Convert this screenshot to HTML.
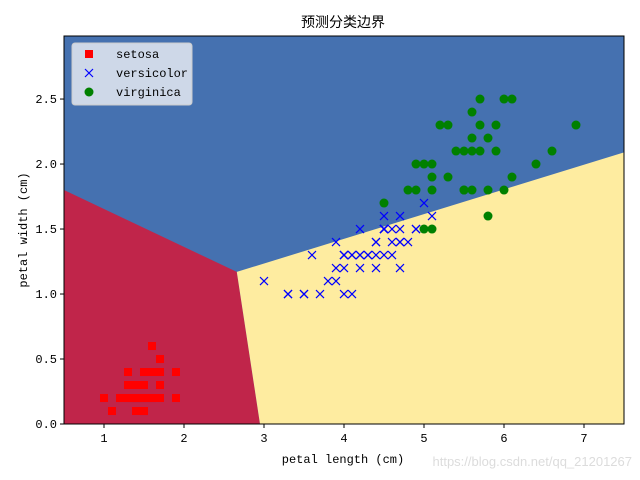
<!DOCTYPE html>
<html><head><meta charset="utf-8"><style>
body{margin:0;background:#fff}
svg{display:block;font-family:"Liberation Mono","WenQuanYi Zen Hei",monospace}
</style></head><body>
<svg id="c" width="640" height="480"></svg>
<script>
const xTicks=[1,2,3,4,5,6,7];
const yTicks=[0.0,0.5,1.0,1.5,2.0,2.5];
const regionRed=[[0.5,1.8],[2.66,1.17],[2.95,0],[0.5,0]];
const regionYellow=[[2.66,1.17],[7.5,2.09],[7.5,0],[2.95,0]];
const setosa=[[1.4,.2],[1.4,.2],[1.3,.2],[1.5,.2],[1.4,.2],[1.7,.4],[1.4,.3],[1.5,.2],[1.4,.2],[1.5,.1],[1.5,.2],[1.6,.2],[1.4,.1],[1.1,.1],[1.2,.2],[1.5,.4],[1.3,.4],[1.4,.3],[1.7,.3],[1.5,.3],[1.7,.2],[1.5,.4],[1.0,.2],[1.7,.5],[1.9,.2],[1.6,.2],[1.6,.4],[1.5,.2],[1.4,.2],[1.6,.2],[1.6,.2],[1.5,.4],[1.5,.1],[1.4,.2],[1.5,.1],[1.2,.2],[1.3,.2],[1.5,.1],[1.3,.2],[1.5,.2],[1.3,.3],[1.3,.3],[1.3,.2],[1.6,.6],[1.9,.4],[1.4,.3],[1.6,.2],[1.4,.2],[1.5,.2],[1.4,.2]];
const versicolor=[[4.7,1.4],[4.5,1.5],[4.9,1.5],[4.0,1.3],[4.6,1.5],[4.5,1.3],[4.7,1.6],[3.3,1.0],[4.6,1.3],[3.9,1.4],[3.5,1.0],[4.2,1.5],[4.0,1.0],[4.7,1.4],[3.6,1.3],[4.4,1.4],[4.5,1.5],[4.1,1.0],[4.5,1.5],[3.9,1.1],[4.0,1.3],[4.9,1.5],[4.7,1.2],[4.3,1.3],[4.4,1.4],[4.8,1.4],[5.0,1.7],[4.5,1.5],[3.5,1.0],[3.8,1.1],[3.7,1.0],[3.9,1.2],[5.1,1.6],[4.5,1.5],[4.5,1.6],[4.7,1.5],[4.4,1.3],[4.1,1.3],[4.0,1.3],[4.4,1.2],[4.6,1.4],[4.0,1.2],[3.3,1.0],[4.2,1.3],[4.2,1.2],[4.2,1.3],[4.3,1.3],[3.0,1.1],[4.1,1.3]];
const virginica=[[6.0,2.5],[5.1,1.9],[5.9,2.1],[5.6,1.8],[5.8,2.2],[6.6,2.1],[4.5,1.7],[5.8,1.8],[6.1,2.5],[5.1,2.0],[5.3,1.9],[5.5,2.1],[5.0,2.0],[5.3,2.3],[5.5,1.8],[6.9,2.3],[5.0,1.5],[5.7,2.3],[4.9,2.0],[4.9,1.8],[5.7,2.1],[6.0,1.8],[4.8,1.8],[5.6,2.1],[5.8,1.6],[6.1,1.9],[6.4,2.0],[5.6,2.2],[5.1,1.5],[5.6,2.4],[5.5,1.8],[5.4,2.1],[5.2,2.3],[5.1,1.8],[5.7,2.5],[5.9,2.3]];
const L=64,R=624,T=36,B=424,X0=0.5,X1=7.5,Y0=0,Y1=2.985;
const sx=v=>L+(v-X0)/(X1-X0)*(R-L), sy=v=>B-(v-Y0)/(Y1-Y0)*(B-T);
const s=document.getElementById('c'),NS='http://www.w3.org/2000/svg';
function el(t,a,p){const e=document.createElementNS(NS,t);for(const k in a)e.setAttribute(k,a[k]);(p||s).appendChild(e);return e;}
let e=el('rect',{x:L,y:T,width:R-L,height:B-T,fill:'#4571b0'});

e=el('polygon',{points:regionRed.map(p=>sx(p[0])+','+sy(p[1])).join(' '),fill:'#c0254a'});

e=el('polygon',{points:regionYellow.map(p=>sx(p[0])+','+sy(p[1])).join(' '),fill:'#feeca0'});

setosa.forEach(p=>{const m=el('rect',{x:sx(p[0])-4,y:sy(p[1])-4,width:8,height:8,fill:'#f00'});
});
versicolor.forEach(p=>{const x=sx(p[0]),y=sy(p[1]);const m=el('path',{d:`M${x-4} ${y-4}L${x+4} ${y+4}M${x-4} ${y+4}L${x+4} ${y-4}`,stroke:'#00f','stroke-width':1.2});
});
virginica.forEach(p=>{const m=el('circle',{cx:sx(p[0]),cy:sy(p[1]),r:4.5,fill:'#008000'});
});
e=el('rect',{x:L,y:T,width:R-L,height:B-T,fill:'none',stroke:'#000','stroke-width':1});

xTicks.forEach(v=>{const x=sx(v);el('line',{x1:x,x2:x,y1:B,y2:B+4,stroke:'#000'});
const t=el('text',{x:x,y:B+18,'text-anchor':'middle','font-size':12});t.textContent=v;
});
yTicks.forEach(v=>{const y=sy(v);el('line',{x1:L-4,x2:L,y1:y,y2:y,stroke:'#000'});
const t=el('text',{x:L-7,y:y+4,'text-anchor':'end','font-size':12});t.textContent=v.toFixed(1);
});
e=el('text',{x:343,y:27,'text-anchor':'middle','font-size':14,'font-family':'"WenQuanYi Zen Hei","Noto Sans CJK SC",sans-serif'});e.textContent='预测分类边界';

e=el('text',{x:343,y:463,'text-anchor':'middle','font-size':12});e.textContent='petal length (cm)';

e=el('text',{x:27,y:230,'text-anchor':'middle','font-size':12,transform:'rotate(-90 27 230)'});e.textContent='petal width (cm)';

e=el('text',{x:632,y:466,'text-anchor':'end','font-size':13,fill:'#dcdcdc','font-family':'"Liberation Sans",sans-serif'});e.textContent='https://blog.csdn.net/qq_21201267';

const g=el('g',{});
el('rect',{x:72,y:43,width:120,height:62,rx:3,fill:'#dde3ee','fill-opacity':0.9,stroke:'#ccc'},g);
el('rect',{x:85,y:50,width:8,height:8,fill:'#f00'},g);
el('path',{d:'M85 69L93 77M85 77L93 69',stroke:'#00f','stroke-width':1.2},g);
el('circle',{cx:89,cy:92,r:4.5,fill:'#008000'},g);
[['setosa',58],['versicolor',77],['virginica',96]].forEach(([n,y])=>{const t=el('text',{x:116,y:y,'font-size':12},g);t.textContent=n;
});
</script>
</body></html>
